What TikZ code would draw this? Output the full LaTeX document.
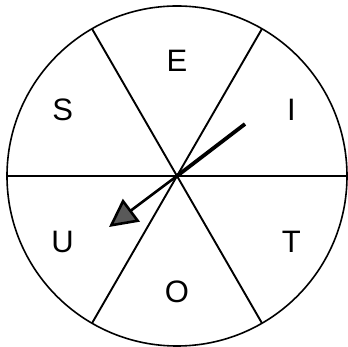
\documentclass[tikz,border=0pt]{standalone}
\usepackage{fontspec}
\setmainfont{Liberation Sans}
\usetikzlibrary{arrows.meta}

\begin{document}
\begin{tikzpicture}[x=1pt,y=1pt]
\useasboundingbox (-177,-171) rectangle (171,176);
\coordinate (hub) at (0,0);
\draw[line width=1.6pt] (hub) circle (170);
\draw[line width=1.9pt] (180:170) -- (0:170);
\draw[line width=1.9pt] (120:170) -- (300:170);
\draw[line width=1.9pt] (60:170) -- (240:170);
\node[font=\fontsize{31}{31}\selectfont] (e) at (90:115) {E};
\node[font=\fontsize{31}{31}\selectfont] (i) at (30:132) {I};
\node[font=\fontsize{31}{31}\selectfont] (t) at (-30:132) {T};
\node[font=\fontsize{31}{31}\selectfont] (o) at (270:116) {O};
\node[font=\fontsize{31}{31}\selectfont] (u) at (210:132) {U};
\node[font=\fontsize{31}{31}\selectfont] (s) at (150:132) {S};
\coordinate (tail) at (68,52);
\coordinate (tip) at (-68,-51);
\draw[line width=3.8pt] (tail) -- (hub);
\draw[line width=2.6pt, -{Triangle[length=28pt, width=28pt, fill=black!65]}] (hub) -- (tip);
\end{tikzpicture}
\end{document}
